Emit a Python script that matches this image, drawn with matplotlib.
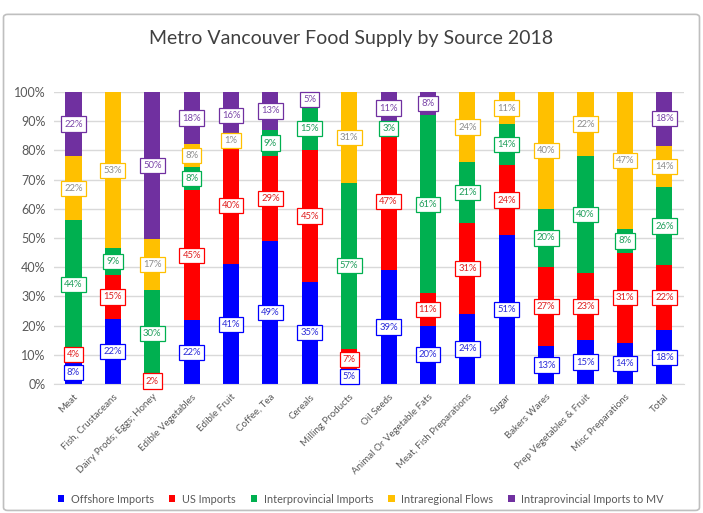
"""Metro Vancouver food supply by source, 2018 - 100% stacked columns."""

import matplotlib.pyplot as plt
from matplotlib.patches import Patch, FancyBboxPatch

plt.rcParams["font.family"] = ["Lato", "DejaVu Sans"]

categories = [
    "Meat", "Fish, Crustaceans", "Dairy Prods; Eggs; Honey", "Edible Vegetables",
    "Edible Fruit", "Coffee, Tea", "Cereals", "Milling Products", "Oil Seeds",
    "Animal Or Vegetable Fats", "Meat, Fish Preparations", "Sugar", "Bakers Wares",
    "Prep Vegetables & Fruit", "Misc Preparations", "Total",
]
offshore = [8, 22, 0, 22, 41, 49, 35, 5, 39, 20, 24, 51, 13, 15, 14, 18]
us_imports = [4, 15, 2, 45, 40, 29, 45, 7, 47, 11, 31, 24, 27, 23, 31, 22]
interprov = [44, 9, 30, 8, 2, 9, 15, 57, 3, 61, 21, 14, 20, 40, 8, 26]
intraregional = [22, 53, 17, 8, 1, 0, 0, 31, 0, 0, 24, 11, 40, 22, 47, 14]
intraprov_mv = [22, 0, 50, 18, 16, 13, 5, 0, 11, 8, 0, 0, 0, 0, 0, 18]

series_names = ["Offshore Imports", "US Imports", "Interprovincial Imports",
                "Intraregional Flows", "Intraprovincial Imports to MV"]
series = [offshore, us_imports, interprov, intraregional, intraprov_mv]
colors = ["#0000FF", "#FF0000", "#00B050", "#FFC000", "#7030A0"]
text_colors = ["#2B2BD9", "#E02020", "#1E9E5A", "#8C8C8C", "#7A45A8"]

# label sitting under another one in the source chart (not visible there)
hidden_labels = {("Interprovincial Imports", "Edible Fruit")}

fig = plt.figure(figsize=(7.03, 5.13), dpi=100)
fig.patches.append(FancyBboxPatch((0.005, 0.005), 0.99, 0.967,
                                  boxstyle="round,pad=0,rounding_size=0.006",
                                  transform=fig.transFigure, fill=False,
                                  edgecolor="#BFBFBF", linewidth=1.2))
ax = fig.add_axes([0.0765, 0.2515, 0.8965, 0.5692])

x = list(range(len(categories)))
totals = [sum(col) for col in zip(*series)]
bottom = [0.0] * len(categories)
for k, (name, vals) in enumerate(zip(series_names, series)):
    frac = [v / t for v, t in zip(vals, totals)]
    ax.bar(x, frac, width=0.41, bottom=bottom, color=colors[k], label=name, zorder=2)
    for i, v in enumerate(vals):
        if v <= 0 or (name, categories[i]) in hidden_labels:
            continue
        ax.text(i, bottom[i] + frac[i] / 2, f"{v}%", ha="center", va="center",
                fontsize=6.8, color=text_colors[k], zorder=5 + k, clip_on=False,
                bbox=dict(boxstyle="square,pad=0.33", facecolor="white",
                          edgecolor=colors[k], linewidth=0.9))
    bottom = [b + f for b, f in zip(bottom, frac)]

ax.set_ylim(0, 1)
ax.set_xlim(-0.5, len(categories) - 0.5)
ax.set_yticks([i / 10 for i in range(11)])
ax.set_yticklabels([f"{i * 10}%" for i in range(11)], fontsize=9, color="#595959")
ax.set_xticks(x)
ax.set_xticklabels(categories, rotation=45, ha="right", rotation_mode="anchor",
                   fontsize=7, color="#595959")
ax.tick_params(axis="both", length=0, pad=6)
ax.grid(axis="y", color="#D9D9D9", linewidth=1, zorder=0)
ax.set_axisbelow(True)
for side in ["top", "right", "left"]:
    ax.spines[side].set_visible(False)
ax.spines["bottom"].set_color("#D9D9D9")

fig.text(0.5, 0.925, "Metro Vancouver Food Supply by Source 2018",
         ha="center", va="center", fontsize=14, color="#404040")

handles = [Patch(facecolor=c, edgecolor="none") for c in colors]
fig.legend(handles, series_names, loc="center left", bbox_to_anchor=(0.068, 0.027),
           ncol=5, frameon=False, fontsize=7.8, handlelength=0.6, handleheight=0.6,
           handletextpad=0.6, columnspacing=1.4, labelcolor="#595959")

fig.savefig("out.png", dpi=100)
